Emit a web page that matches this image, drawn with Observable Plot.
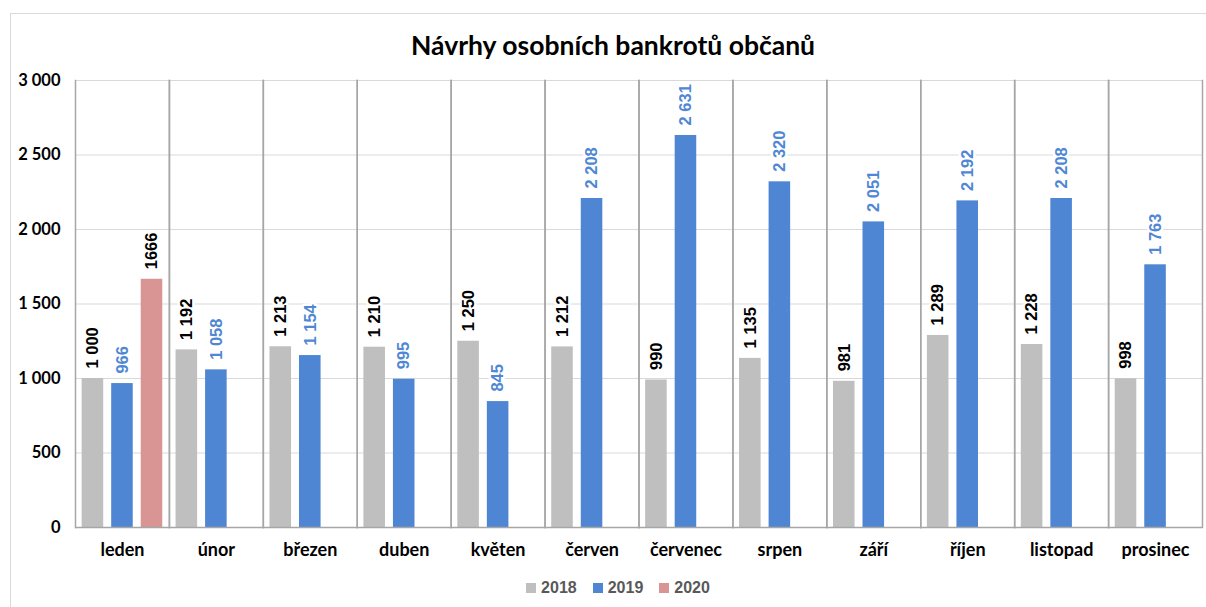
<!DOCTYPE html>
<html>
<head>
<meta charset="utf-8">
<script src="https://cdn.jsdelivr.net/npm/d3@7"></script>
<script src="https://cdn.jsdelivr.net/npm/@observablehq/plot@0.6"></script>
<style>
  html, body { margin: 0; padding: 0; background: #fff; }
  body { width: 1206px; height: 607px; position: relative; overflow: hidden; }
  #frame { position: absolute; left: 10px; top: 13px; width: 1196px; height: 594px; border-left: 1px solid #d9d9d9; border-top: 1px solid #d9d9d9; box-sizing: border-box; }
  #title { position: absolute; left: 20px; top: 29px; width: 1186px; text-align: center; font-family: Lato, sans-serif; font-weight: bold; font-size: 26.5px; color: #000; line-height: 32px; }
  #chart { position: absolute; left: 0; top: 60px; width: 1206px; }
  #chart svg { max-width: none; }
  #legend { position: absolute; left: 0; top: 577px; width: 1206px; padding-left: 30px; box-sizing: border-box; display: flex; justify-content: center; gap: 16px; font-family: "Liberation Sans", Arial, sans-serif; font-weight: bold; font-size: 16px; color: #595959; line-height: 22px; }
  #legend span.item { display: inline-flex; align-items: center; gap: 5px; }
  #legend i { display: inline-block; width: 10px; height: 10px; }
</style>
</head>
<body>
<div id="frame"></div>
<div id="title">Návrhy osobních bankrotů občanů</div>
<div id="chart"></div>
<div id="legend"></div>
<script>
const months = ["leden", "únor", "březen", "duben", "květen", "červen", "červenec", "srpen", "září", "říjen", "listopad", "prosinec"];
const years = ["2018", "2019", "2020"];
const v2018 = [1000, 1192, 1213, 1210, 1250, 1212, 990, 1135, 981, 1289, 1228, 998];
const v2019 = [966, 1058, 1154, 995, 845, 2208, 2631, 2320, 2051, 2192, 2208, 1763];
const v2020 = [1666];
const yTicks = [0, 500, 1000, 1500, 2000, 2500, 3000];
const barColors = ["#bfbfbf", "#4e86d3", "#d99594"];
const labelColors = ["#000000", "#4f87d4", "#000000"];

const spaced = d => d3.format(",")(d).replace(/,/g, " ");
const seriesValues = [v2018, v2019, v2020];
const rows = [];
months.forEach((m, i) => {
  seriesValues.forEach((vals, k) => {
    if (vals[i] != null) rows.push({month: m, year: years[k], value: vals[i],
      label: years[k] === "2020" ? String(vals[i]) : spaced(vals[i])});
  });
});

const labelMarks = years.map((yr, k) =>
  Plot.text(rows.filter(r => r.year === yr), {
    fx: "month", x: "year", y: "value", text: "label",
    rotate: -90, textAnchor: "start", dy: -10,
    fill: labelColors[k], stroke: "white", strokeWidth: 5, paintOrder: "stroke",
    fontFamily: "Liberation Sans, Arial, sans-serif", fontWeight: "bold", fontSize: 16.5
  })
);

const chart = Plot.plot({
  width: 1206,
  height: 515,
  marginLeft: 75,
  marginRight: 4,
  marginTop: 20,
  marginBottom: 48,
  style: {fontFamily: "Lato, sans-serif", fontSize: "16.5px", fontWeight: "bold", color: "#000", background: "transparent"},
  fx: {domain: months, padding: 0, round: false, label: null},
  x: {domain: years, paddingInner: 0.27, paddingOuter: 0.225, round: false, axis: null},
  y: {domain: [0, 3000], label: null},
  color: {domain: years, range: barColors},
  marks: [
    Plot.ruleY(yTicks.slice(1), {stroke: "#d9d9d9", strokeWidth: 1}),
    Plot.frame({anchor: "left", stroke: "#a6a6a6", strokeWidth: 1.5}),
    Plot.frame({anchor: "right", stroke: "#a6a6a6", strokeWidth: 1.5}),
    Plot.barY(rows, {fx: "month", x: "year", y: "value", fill: "year"}),
    Plot.ruleY([0], {stroke: "#a6a6a6", strokeWidth: 1.5}),
    Plot.axisY({ticks: yTicks, tickFormat: spaced, tickSize: 0, tickPadding: 15, label: null, fontSize: 16.5}),
    Plot.axisFx({anchor: "bottom", tickSize: 0, tickPadding: 16, label: null, fontSize: 18}),
    ...labelMarks
  ]
});
document.getElementById("chart").appendChild(chart);

const legend = document.getElementById("legend");
years.forEach((yr, k) => {
  const s = document.createElement("span");
  s.className = "item";
  const sw = document.createElement("i");
  sw.style.background = barColors[k];
  s.appendChild(sw);
  s.appendChild(document.createTextNode(yr));
  legend.appendChild(s);
});
</script>
</body>
</html>
